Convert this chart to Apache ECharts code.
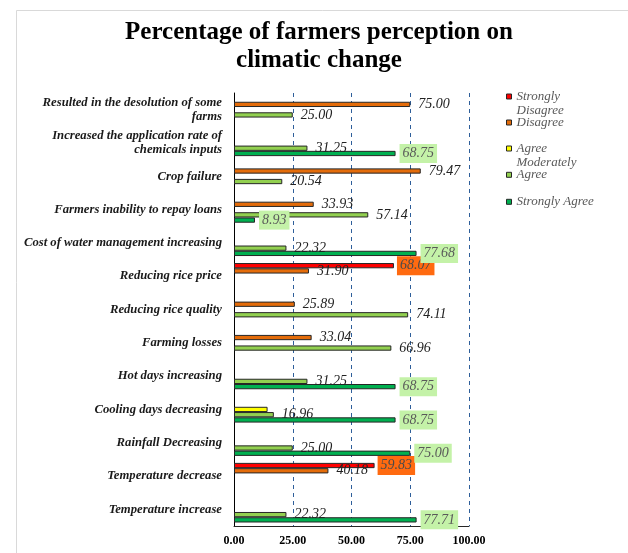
<!DOCTYPE html>
<html><head><meta charset="utf-8">
<script src="https://cdn.jsdelivr.net/npm/echarts@6/dist/echarts.min.js"></script>
<style>html,body{margin:0;padding:0;background:#fff}#c{width:628px;height:553px}</style>
</head><body><div id="c"></div>
<script>
const titleText = 'Percentage of farmers perception on\nclimatic change';
const categories = [
  'Resulted in the desolution of some\nfarms',
  'Increased the application rate of\nchemicals inputs',
  'Crop failure',
  'Farmers inability to repay loans',
  'Cost of water management increasing',
  'Reducing rice price',
  'Reducing rice quality',
  'Farming losses',
  'Hot days increasing',
  'Cooling days decreasing',
  'Rainfall Decreasing',
  'Temperature decrease',
  'Temperature increase'
];
const seriesNames = ['Strongly Disagree', 'Disagree', 'Agree Moderately', 'Agree', 'Strongly Agree'];
const legendLabels = ['Strongly\nDisagree', 'Disagree', 'Agree\nModerately', 'Agree', 'Strongly Agree'];
const stronglyDisagree = [null, null, null, null, null, 68.07, null, null, null, null, null, 59.83, null];
const disagree        = [75.00, null, 79.47, 33.93, null, 31.90, 25.89, 33.04, null, null, null, 40.18, null];
const agreeModerately = [null, null, null, null, null, null, null, null, null, 14.29, null, null, null];
const agree           = [25.00, 31.25, 20.54, 57.14, 22.32, null, 74.11, 66.96, 31.25, 16.96, 25.00, null, 22.32];
const stronglyAgree   = [null, 68.75, null, 8.93, 77.68, null, null, null, 68.75, 68.75, 75.00, null, 77.71];
const xTicks = [0, 25, 50, 75, 100];

const seriesData = [stronglyDisagree, disagree, agreeModerately, agree, stronglyAgree];
const colors = ['#FF0000', '#E46C0A', '#FFFF00', '#92D050', '#00B050'];
const SERIF = '"Liberation Serif", "Times New Roman", serif';

const plainLabel = {
  show: true, position: 'right', distance: 8,
  fontFamily: SERIF, fontStyle: 'italic', fontSize: 14, color: '#222222',
  formatter: p => p.value == null ? '' : Number(p.value).toFixed(2)
};
const labelStyles = [
  Object.assign({}, plainLabel, { distance: 3, backgroundColor: '#FF6A10', color: '#4a4a4a', padding: [3, 3, 2, 3] }),
  plainLabel,
  { show: false },
  plainLabel,
  Object.assign({}, plainLabel, { distance: 4, backgroundColor: '#C4F2A8', color: '#595959', padding: [3, 3, 2, 3] })
];

// two-line legend entries get an empty leading line so the first text line sits beside the marker
const legendCenters = [96.5, 122.5, 148.5, 174.8, 201.8];
const legends = seriesNames.map((n, i) => {
  const two = legendLabels[i].indexOf('\n') >= 0;
  return {
    data: [n], orient: 'vertical', left: 506, top: legendCenters[i] - (two ? 21 : 7),
    padding: 0, icon: 'rect', itemWidth: 5, itemHeight: 5,
    itemStyle: { borderColor: '#262626', borderWidth: 1 },
    formatter: () => (two ? '\n' : '') + legendLabels[i],
    selectedMode: false,
    textStyle: { fontFamily: SERIF, fontStyle: 'italic', fontSize: 13, color: '#595959', lineHeight: 14 }
  };
});

const chart = echarts.init(document.getElementById('c'), null, { renderer: 'canvas' });
chart.setOption({
  animation: false,
  backgroundColor: '#ffffff',
  graphic: [{ type: 'rect', left: 14, top: 8, shape: { width: 640, height: 580 },
    style: { fill: 'none', stroke: '#d9d9d9', lineWidth: 1 }, silent: true }],
  title: {
    text: titleText, left: 319, top: 19, textAlign: 'center', padding: 0,
    textStyle: { fontFamily: SERIF, fontWeight: 'bold', fontSize: 25, lineHeight: 28, color: '#000' }
  },
  legend: legends,
  grid: { left: 234, right: 159, top: 93, bottom: 27, containLabel: false },
  xAxis: {
    type: 'value', min: xTicks[0], max: xTicks[xTicks.length - 1], interval: xTicks[1] - xTicks[0],
    axisLine: { show: true, lineStyle: { color: '#262626', width: 1 } },
    axisTick: { show: false },
    splitLine: { show: true, lineStyle: { color: '#2E5E9A', type: [4, 4], width: 1 } },
    axisLabel: { formatter: v => v.toFixed(2), fontFamily: SERIF, fontWeight: 'bold', fontSize: 12, color: '#000', margin: 9 }
  },
  yAxis: {
    type: 'category', data: categories, inverse: true,
    axisLine: { show: true, lineStyle: { color: '#000', width: 1 } },
    axisTick: { show: false },
    axisLabel: { fontFamily: SERIF, fontStyle: 'italic', fontWeight: 'bold', fontSize: 12.7, lineHeight: 14, color: '#1a1a1a', margin: 12 }
  },
  series: seriesNames.map((n, i) => ({
    name: n, type: 'bar', data: seriesData[i],
    barGap: '0%', barCategoryGap: '21%',
    itemStyle: { color: colors[i], borderColor: '#262626', borderWidth: 1 },
    label: labelStyles[i]
  }))
});
</script></body></html>
